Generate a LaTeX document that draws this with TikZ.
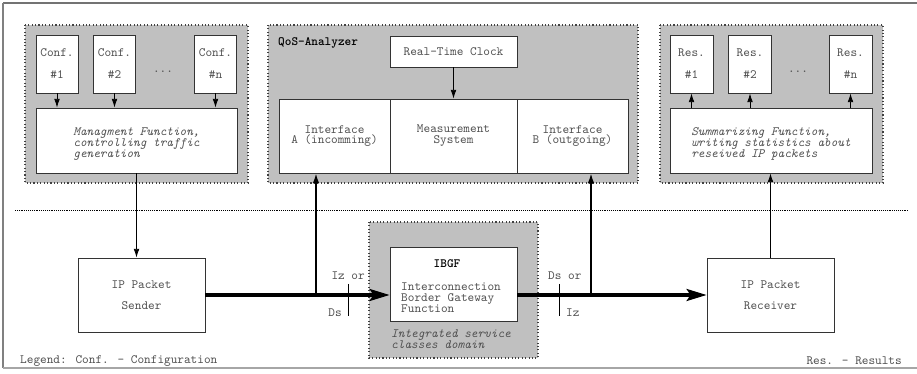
\documentclass[tikz,border=0pt]{standalone}
\usepackage{fontspec}
\usetikzlibrary{arrows.meta}

\definecolor{grpfill}{HTML}{C0C0C0}
\definecolor{txtgray}{HTML}{505050}
\newcommand{\mono}{\ttfamily\fontsize{10.8}{9.3}\selectfont}

\tikzset{
  grp/.style={draw=black!75, dotted, line width=0.9pt, fill=grpfill},
  box/.style={draw=black!80, line width=0.7pt, fill=white, inner sep=0pt,
    align=center, font=\mono, text=txtgray},
  txt/.style={inner sep=0pt, font=\mono, text=txtgray},
  itxt/.style={inner sep=0pt, font=\mono\itshape, text=txtgray, align=left},
  hd/.style={inner sep=0pt, font=\mono\bfseries},
  thinarr/.style={-{Latex[length=0.26cm,width=0.17cm]}, line width=0.7pt},
  taparr/.style={-{Latex[length=0.3cm,width=0.2cm]}, line width=1.3pt},
  flow/.style={-{Stealth[length=0.6cm,width=0.36cm,inset=0.12cm]}, line width=2.6pt},
}

\begin{document}
\begin{tikzpicture}[x=0.03cm,y=-0.03cm]
\useasboundingbox (0,0) rectangle (917,374);

% frame
\draw[black!55, line width=0.9pt] (917,3) -- (3,3);
\draw[black!50, line width=0.9pt] (3,3) -- (3,368);
\draw[black!35, line width=0.9pt] (3,368) -- (917,368);

% groups
\draw[grp] (25,25) rectangle (248,183);
\draw[grp] (268,25) rectangle (638,183);
\draw[grp] (660,25) rectangle (883,183);
\draw[grp] (369,222) rectangle (538,358);

% separator between management and traffic level
\draw[densely dotted, line width=0.6pt] (15,210) -- (908,210);

% configuration side
\node[box, minimum width=1.26cm, minimum height=1.74cm] (conf1) at (57,64) {Conf.\\[9.5pt]\#1};
\node[box, minimum width=1.26cm, minimum height=1.74cm] (conf2) at (114.5,64) {Conf.\\[9.5pt]\#2};
\node[box, minimum width=1.26cm, minimum height=1.74cm] (confn) at (215.5,64) {Conf.\\[9.5pt]\#n};
\node[txt] (confdots) at (163,72) {...};
\node[box, minimum width=6.03cm, minimum height=1.95cm] (mgmt) at (136.5,140.5) {};
\node[itxt] (mgmttxt) at (136.5,144) {Managment Function,\\controlling traffic\\generation};

% QoS analyzer
\node[hd, anchor=west] (qoshd) at (278,43) {QoS-Analyzer};
\node[box, minimum width=3.81cm, minimum height=0.93cm] (clock) at (453.5,51.5) {Real-Time Clock};
\node[box, minimum width=3.33cm, minimum height=2.22cm] (ifa) at (334.5,136) {Interface\\A (incomming)};
\node[box, minimum width=3.81cm, minimum height=2.22cm] (meas) at (453.5,136) {Measurement\\System};
\node[box, minimum width=3.33cm, minimum height=2.22cm] (ifb) at (572.5,136) {Interface\\B (outgoing)};

% result side
\node[box, minimum width=1.29cm, minimum height=1.74cm] (res1) at (691.5,64) {Res.\\[9.5pt]\#1};
\node[box, minimum width=1.29cm, minimum height=1.74cm] (res2) at (750,64) {Res.\\[9.5pt]\#2};
\node[box, minimum width=1.29cm, minimum height=1.74cm] (resn) at (850.5,64) {Res.\\[9.5pt]\#n};
\node[txt] (resdots) at (798,72) {...};
\node[box, minimum width=6.06cm, minimum height=1.95cm] (summ) at (771,140.5) {};
\node[itxt] (summtxt) at (771,144) {Summarizing Function,\\writing statistics about\\reseived IP packets};

% traffic level
\node[box, minimum width=3.81cm, minimum height=2.22cm] (sender) at (141.5,295) {IP Packet\\[8.7pt]Sender};
\node[box, minimum width=3.81cm, minimum height=2.22cm] (recv) at (770.5,295) {IP Packet\\[8.7pt]Receiver};
\node[box, minimum width=3.81cm, minimum height=2.22cm] (ibgf) at (453.5,284) {};
\node[hd] (ibgfhd) at (447,264) {IBGF};
\node[txt, anchor=west, align=left] (ibgftxt) at (401,298) {Interconnection\\Border Gateway\\Function};
\node[itxt, anchor=west] (domtxt) at (391,339.5) {Integrated service\\classes domain};

% arrows in the groups
\foreach \c in {conf1,conf2,confn}
  \draw[thinarr] (\c.south) -- (\c.south |- mgmt.north);
\foreach \r in {res1,res2,resn}
  \draw[thinarr] (\r.south |- summ.north) -- (\r.south);
\draw[thinarr] (clock.south) -- (meas.north);

% links between levels
\draw[thinarr] (mgmt.south) -- (mgmt.south |- sender.north);
\draw[thinarr] (recv.north) -- (recv.north |- summ.south);

% packet flow
\coordinate (tapa) at (316,295);
\coordinate (tapb) at (591,295);
\draw[flow] (sender.east) -- (sender.east -| ibgf.west);
\draw[flow] (ibgf.east |- recv.west) -- (recv.west);
\draw[taparr] (tapa) -- (tapa |- ifa.south);
\draw[taparr] (tapb) -- (tapb |- ifb.south);

% domain borders
\coordinate (bora) at (348,295);
\coordinate (borb) at (559,295);
\draw[line width=0.8pt] ([yshift=0.33cm]bora) -- ([yshift=-0.63cm]bora);
\draw[line width=0.8pt] ([yshift=0.33cm]borb) -- ([yshift=-0.63cm]borb);
\node[txt, anchor=east] (iza) at (365,276) {Iz or};
\node[txt, anchor=east] (dsa) at (342,313) {Ds};
\node[txt, anchor=west] (dsb) at (548,276) {Ds or};
\node[txt, anchor=west] (izb) at (566,313) {Iz};

% legend
\node[txt, anchor=west] (legl) at (20,361) {Legend: Conf. - Configuration};
\node[txt, anchor=east] (legr) at (902,361) {Res. - Results};
\end{tikzpicture}
\end{document}
